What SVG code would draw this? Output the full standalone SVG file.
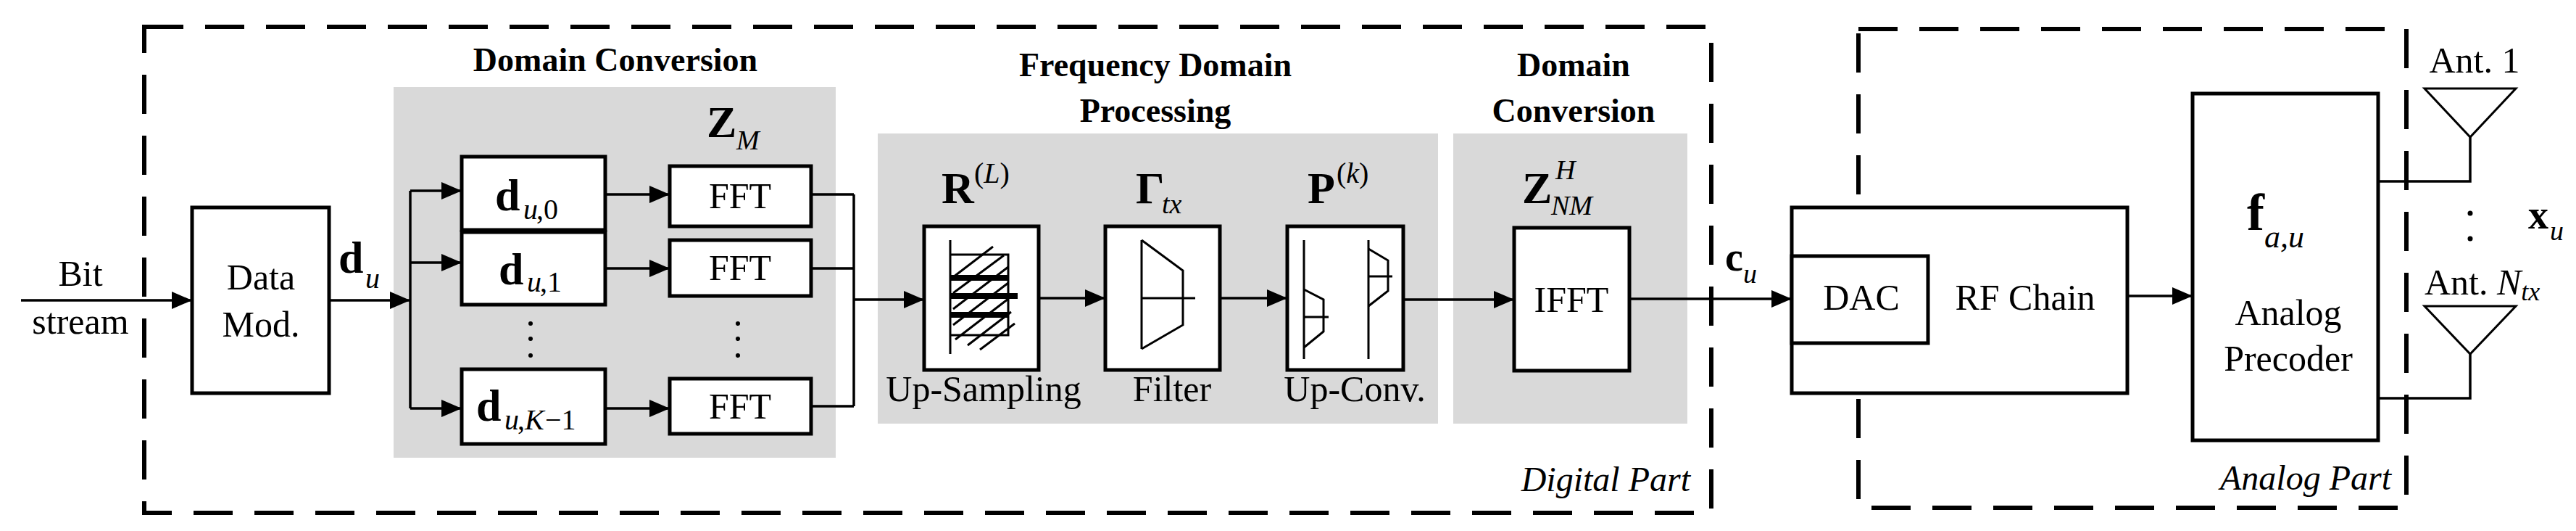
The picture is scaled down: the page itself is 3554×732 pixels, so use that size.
<svg xmlns="http://www.w3.org/2000/svg" width="3554" height="732" viewBox="0 0 3554 732">
<style>
text{font-family:"Liberation Serif","Times New Roman",serif;fill:#000}
.t{font-size:50px;text-anchor:middle}
.h{font-size:46px;font-weight:bold;text-anchor:middle}
.b{font-size:62px;font-weight:bold}
.i{font-style:italic}
.box{fill:#fff;stroke:#000;stroke-width:5}
.ln{fill:none;stroke:#000;stroke-width:3.5}
.ic{fill:none;stroke:#000;stroke-width:3}
.dash{fill:none;stroke:#000;stroke-width:6;stroke-dasharray:54 30}
.gray{fill:#d9d9d9}
</style>
<defs>
<marker id="a" viewBox="0 0 28 24" refX="28" refY="12" markerWidth="28" markerHeight="24" orient="auto" markerUnits="userSpaceOnUse"><path d="M0,0 L28,12 L0,24 z" fill="#000"/></marker>
</defs>
<rect x="0" y="0" width="3554" height="732" fill="#fff"/>
<g id="regions">
<rect x="199" y="37" width="2162" height="670" class="dash"/>
<rect x="2564" y="40" width="756" height="660" class="dash"/>
<rect x="543" y="120" width="610" height="511" class="gray"/>
<rect x="1211" y="184" width="773" height="400" class="gray"/>
<rect x="2005" y="184" width="323" height="400" class="gray"/>
<text class="h" x="849" y="98">Domain Conversion</text>
<text class="h" x="1594" y="105">Frequency Domain</text>
<text class="h" x="1594" y="168">Processing</text>
<text class="h" x="2171" y="105">Domain</text>
<text class="h" x="2171" y="168">Conversion</text>
<text class="i" style="font-size:48px;text-anchor:end" x="2332" y="677">Digital Part</text>
<text class="i" style="font-size:48px;text-anchor:end" x="3299" y="675">Analog Part</text>
</g>
<g id="connectors">
<path class="ln" d="M29,414 H265" marker-end="url(#a)"/>
<path class="ln" d="M454,414 H566" marker-end="url(#a)"/>
<path class="ln" d="M566,263 V563"/>
<path class="ln" d="M566,263 H637" marker-end="url(#a)"/>
<path class="ln" d="M566,362 H637" marker-end="url(#a)"/>
<path class="ln" d="M566,563 H637" marker-end="url(#a)"/>
<path class="ln" d="M835,268 H924" marker-end="url(#a)"/>
<path class="ln" d="M835,370 H924" marker-end="url(#a)"/>
<path class="ln" d="M835,563 H924" marker-end="url(#a)"/>
<path class="ln" d="M1119,268 H1178 M1119,370 H1178 M1119,560 H1178 M1178,268 V560"/>
<path class="ln" d="M1178,413 H1275" marker-end="url(#a)"/>
<path class="ln" d="M1433,411 H1525" marker-end="url(#a)"/>
<path class="ln" d="M1683,411 H1776" marker-end="url(#a)"/>
<path class="ln" d="M1936,413 H2089" marker-end="url(#a)"/>
<path class="ln" d="M2248,412 H2472" marker-end="url(#a)"/>
<path class="ln" d="M2935,408 H3025" marker-end="url(#a)"/>
<path class="ln" d="M3281,250 H3408 V189"/>
<path class="ln" d="M3281,549 H3408 V488"/>
</g>
<g id="bitstream">
<text class="t" x="111" y="394">Bit</text>
<text class="t" x="111" y="460">stream</text>
</g>
<g id="datamod">
<rect class="box" x="265" y="286" width="189" height="256"/>
<text class="t" x="360" y="399">Data</text>
<text class="t" x="360" y="464">Mod.</text>
</g>
<g id="du-label">
<text class="b" x="467" y="376">d</text><text class="i" style="font-size:40px" x="504" y="397">u</text>
</g>
<g id="d0"><rect class="box" x="637" y="216" width="198" height="101"/>
<text class="b" x="683" y="290">d</text><text class="i" style="font-size:40px" x="722" y="302">u</text><text style="font-size:40px" x="740" y="302">,0</text></g>
<g id="d1"><rect class="box" x="637" y="320" width="198" height="100"/>
<text class="b" x="688" y="392">d</text><text class="i" style="font-size:40px" x="727" y="402">u</text><text style="font-size:40px" x="745" y="402">,1</text></g>
<g id="dK"><rect class="box" x="637" y="509" width="198" height="103"/>
<text class="b" x="657" y="580">d</text><text class="i" style="font-size:40px" x="696" y="592">u</text><text style="font-size:40px" x="714" y="592">,</text><text class="i" style="font-size:40px" x="724" y="592">K</text><text style="font-size:40px" x="752" y="592">−1</text></g>
<g id="dots">
<circle cx="732" cy="446" r="3"/><circle cx="732" cy="467" r="3"/><circle cx="732" cy="490" r="3"/>
<circle cx="1018" cy="446" r="3"/><circle cx="1018" cy="467" r="3"/><circle cx="1018" cy="490" r="3"/>
</g>
<g id="zm"><text class="b" x="975" y="189">Z</text><text class="i" style="font-size:38px" x="1016" y="206">M</text></g>
<g id="fft0"><rect class="box" x="924" y="229" width="195" height="83"/><text class="t" x="1021" y="287">FFT</text></g>
<g id="fft1"><rect class="box" x="924" y="331" width="195" height="77"/><text class="t" x="1021" y="386">FFT</text></g>
<g id="fftK"><rect class="box" x="924" y="522" width="195" height="76"/><text class="t" x="1021" y="577">FFT</text></g>
<g id="upsampling">
<text class="b" x="1299" y="280">R</text><text style="font-size:40px" x="1344" y="252">(<tspan font-style="italic">L</tspan>)</text>
<rect class="box" x="1275" y="312" width="158" height="198"/>
<path class="ic" d="M1311,331 V488 M1311,351 H1391 V462 H1311"/>
<path class="ic" d="M1315,382 L1370,340 M1315,404 L1385,352 M1315,426 L1391,368 M1315,448 L1391,390 M1318,468 L1391,412 M1335,476 L1395,430 M1352,482 L1400,446"/>
<path fill="none" stroke="#000" stroke-width="8" d="M1311,383 H1391 M1311,408 H1404 M1311,434 H1391"/>
<text class="t" x="1357" y="553">Up-Sampling</text>
</g>
<g id="filter">
<text class="b" x="1567" y="280">Γ</text><text class="i" style="font-size:38px" x="1603" y="294">tx</text>
<rect class="box" x="1525" y="312" width="158" height="198"/>
<path class="ic" d="M1575,331 V481 M1575,411 H1649"/>
<path class="ic" d="M1575,331 L1632,373 V448 L1575,481"/>
<text class="t" x="1617" y="553">Filter</text>
</g>
<g id="upconv">
<text class="b" x="1804" y="280">P</text><text style="font-size:40px" x="1844" y="252">(<tspan font-style="italic">k</tspan>)</text>
<rect class="box" x="1776" y="312" width="160" height="198"/>
<path class="ic" d="M1799,331 V495 M1799,437 H1833 M1888,331 V495 M1888,381 H1921"/>
<path class="ic" d="M1799,399 L1826,413 V457 L1799,479 M1888,343 L1915,359 V401 L1888,422"/>
<text class="t" x="1869" y="553">Up-Conv.</text>
</g>
<g id="ifft">
<text class="b" x="2100" y="280">Z</text><text class="i" style="font-size:38px" x="2146" y="247">H</text><text class="i" style="font-size:38px" x="2140" y="296">NM</text>
<rect class="box" x="2089" y="314" width="159" height="197"/>
<text class="t" x="2168" y="430">IFFT</text>
</g>
<g id="cu-label"><text class="b" style="font-size:56px" x="2380" y="373">c</text><text class="i" style="font-size:38px" x="2405" y="390">u</text></g>
<g id="rfchain">
<rect class="box" x="2472" y="286" width="463" height="256"/>
<rect class="box" x="2472" y="353" width="188" height="120"/>
<text class="t" x="2568" y="427">DAC</text>
<text class="t" x="2794" y="427">RF Chain</text>
</g>
<g id="precoder">
<rect class="box" x="3025" y="129" width="256" height="478"/>
<text class="b" style="font-size:72px" x="3100" y="317">f</text><text class="i" style="font-size:44px" x="3124" y="341">a,u</text>
<text class="t" x="3157" y="448">Analog</text>
<text class="t" x="3157" y="511">Precoder</text>
</g>
<g id="ant1">
<text class="t" x="3414" y="100">Ant. 1</text>
<path class="ic" d="M3345,122 H3471 L3408,189 Z"/>
</g>
<g id="antN">
<text style="font-size:50px" x="3345" y="406">Ant. <tspan font-style="italic">N</tspan><tspan font-style="italic" font-size="36" dy="8">tx</tspan></text>
<path class="ic" d="M3345,422 H3471 L3408,488 Z"/>
</g>
<g id="xu">
<circle cx="3408" cy="294" r="3.5"/><circle cx="3408" cy="329" r="3.5"/>
<text class="b" style="font-size:56px" x="3488" y="315">x</text><text class="i" style="font-size:38px" x="3518" y="331">u</text>
</g>
</svg>
